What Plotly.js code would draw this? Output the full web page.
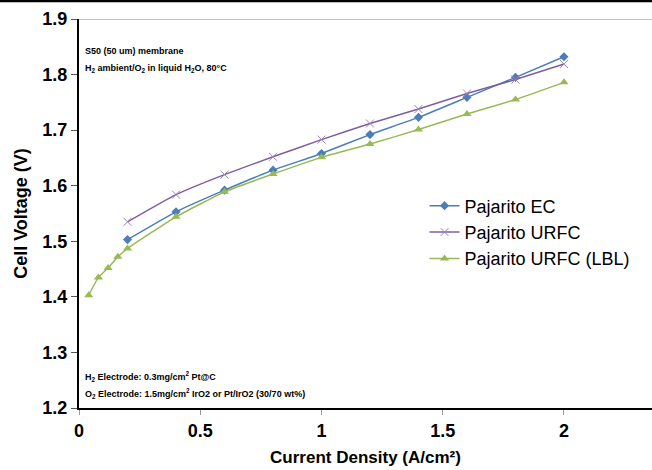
<!DOCTYPE html>
<html>
<head>
<meta charset="utf-8">
<script src="https://cdn.plot.ly/plotly-3.0.1.min.js"></script>
<style>html,body{margin:0;padding:0;background:#fff;}#chart{width:652px;height:470px;}</style>
</head>
<body>
<div id="chart"></div>
<script>
const ecX = [0.2, 0.4, 0.6, 0.8, 1.0, 1.2, 1.4, 1.6, 1.8, 2.0];
const ecY = [1.503, 1.553, 1.592, 1.628, 1.658, 1.692, 1.723, 1.759, 1.795, 1.832];
const urfcX = [0.2, 0.4, 0.6, 0.8, 1.0, 1.2, 1.4, 1.6, 1.8, 2.0];
const urfcY = [1.535, 1.584, 1.620, 1.652, 1.683, 1.712, 1.738, 1.766, 1.791, 1.819];
const lblX = [0.04, 0.08, 0.12, 0.16, 0.2, 0.4, 0.6, 0.8, 1.0, 1.2, 1.4, 1.6, 1.8, 2.0];
const lblY = [1.403, 1.435, 1.452, 1.472, 1.487, 1.544, 1.589, 1.621, 1.651, 1.675, 1.701, 1.729, 1.755, 1.786];
const xTicks = [0, 0.5, 1, 1.5, 2];
const xTickText = ['0', '0.5', '1', '1.5', '2'];
const yTicks = [1.2, 1.3, 1.4, 1.5, 1.6, 1.7, 1.8, 1.9];
const yTickText = ['1.2', '1.3', '1.4', '1.5', '1.6', '1.7', '1.8', '1.9'];

const traces = [
  {x: ecX, y: ecY, name: 'Pajarito EC', mode: 'lines+markers',
   line: {color: '#4A7EBB', width: 1.5, shape: 'spline', smoothing: 0.4},
   marker: {symbol: 'diamond', size: 7, color: '#4A7EBB'}},
  {x: urfcX, y: urfcY, name: 'Pajarito URFC', mode: 'lines+markers',
   line: {color: '#7D5FA0', width: 1.5, shape: 'spline', smoothing: 0.4},
   marker: {symbol: 'x-thin', size: 8, color: '#7D5FA0', line: {color: '#9A86B8', width: 1}}},
  {x: lblX, y: lblY, name: 'Pajarito URFC (LBL)', mode: 'lines+markers',
   line: {color: '#98B954', width: 1.5, shape: 'spline', smoothing: 0.4},
   marker: {symbol: 'triangle-up', size: 8, color: '#98B954'}}
];

const annFont = {family: 'Liberation Sans, Arial', size: 9, color: '#000'};
const layout = {
  width: 652, height: 470,
  margin: {l: 79, r: 0, t: 19, b: 62},
  paper_bgcolor: '#fff', plot_bgcolor: '#fff',
  showlegend: true,
  legend: {x: 0.603, y: 0.567, xanchor: 'left', yanchor: 'top', bgcolor: 'rgba(0,0,0,0)',
    font: {family: 'Liberation Sans, Arial', size: 18, color: '#000'}, tracegroupgap: 0, itemwidth: 30},
  xaxis: {range: [0, 2.363], tickvals: xTicks, ticktext: xTickText, showgrid: false, zeroline: false,
    showline: true, linecolor: '#000', linewidth: 2, ticks: 'outside', ticklen: 5, tickcolor: '#999',
    tickfont: {family: 'Liberation Sans, Arial', size: 18, color: '#000', weight: 'bold'},
    title: {text: 'Current Density (A/cm²)', font: {family: 'Liberation Sans, Arial', size: 17, color: '#000', weight: 'bold'}, standoff: 12}},
  yaxis: {range: [1.2, 1.9], tickvals: yTicks, ticktext: yTickText, showgrid: false, zeroline: false,
    showline: true, linecolor: '#000', linewidth: 2, ticks: 'outside', ticklen: 6, tickcolor: '#555',
    tickfont: {family: 'Liberation Sans, Arial', size: 18, color: '#000', weight: 'bold'},
    title: {text: 'Cell Voltage (V)', font: {family: 'Liberation Sans, Arial', size: 18, color: '#000', weight: 'bold'}, standoff: 10}},
  shapes: [
    {type: 'line', xref: 'paper', yref: 'y', x0: 0, x1: 1, y0: 1.9, y1: 1.9, line: {color: '#888', width: 1}},
    {type: 'line', xref: 'paper', yref: 'paper', x0: -0.2, x1: 1.01, y0: 1.047, y1: 1.047, line: {color: '#000', width: 3}}
  ],
  annotations: [
    {xref: 'paper', yref: 'paper', x: 0.007, y: 0.918, xanchor: 'left', yanchor: 'middle', showarrow: false,
     text: '<b>S50 (50 um) membrane</b>', font: annFont},
    {xref: 'paper', yref: 'paper', x: 0.007, y: 0.874, xanchor: 'left', yanchor: 'middle', showarrow: false,
     text: '<b>H<sub>2</sub> ambient/O<sub>2</sub> in liquid H<sub>2</sub>O, 80°C</b>', font: annFont},
    {xref: 'paper', yref: 'paper', x: 0.007, y: 0.082, xanchor: 'left', yanchor: 'middle', showarrow: false,
     text: '<b>H<sub>2</sub> Electrode: 0.3mg/cm<sup>2</sup> Pt@C</b>', font: annFont},
    {xref: 'paper', yref: 'paper', x: 0.007, y: 0.038, xanchor: 'left', yanchor: 'middle', showarrow: false,
     text: '<b>O<sub>2</sub> Electrode: 1.5mg/cm<sup>2</sup> IrO2 or Pt/IrO2 (30/70 wt%)</b>', font: annFont}
  ]
};
Plotly.newPlot('chart', traces, layout, {displayModeBar: false, staticPlot: true});
</script>
</body>
</html>
